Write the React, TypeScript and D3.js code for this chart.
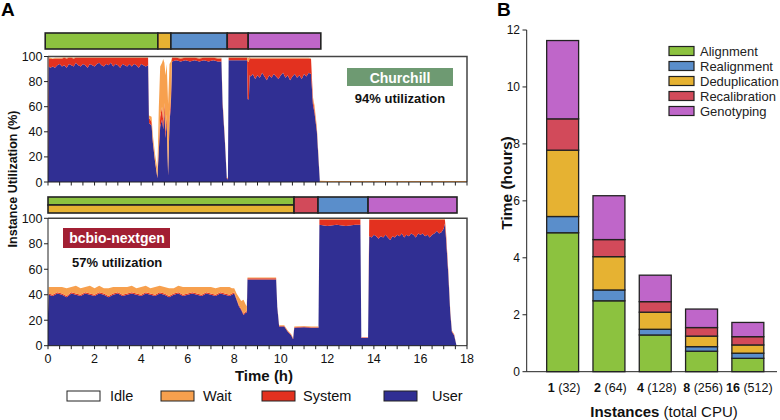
import React from "react";
import * as d3 from "d3";

// ---------- Panel A data: [time (h), user %, system %, wait %] ----------
const churchillUtil: number[][] = [
  [0, 5, 55, 0], [0.03, 92, 7, 0.5], [0.1, 91, 7, 1], [0.2, 92, 6, 0.5], [0.3, 91, 7.5, 0.5],
  [0.4, 93, 5.5, 0.5], [0.5, 94, 4.5, 0.5], [0.6, 92, 6.5, 0.5], [0.7, 93, 6, 0.5], [0.8, 91, 7.5, 0.5],
  [0.9, 94, 5, 0.5], [1.0, 93, 6, 0.5], [1.1, 92, 6.5, 0.5], [1.2, 95, 4, 0.5], [1.3, 93, 6, 0.5],
  [1.4, 92, 7, 0.5], [1.5, 94, 5, 0.5], [1.6, 93, 6, 0.5], [1.7, 91, 8, 0.5], [1.8, 94, 5, 0.5],
  [1.9, 93, 6, 0.5], [2.0, 92, 7, 0.5], [2.1, 94, 5, 0.5], [2.2, 95, 4, 0.5], [2.3, 93, 6, 0.5],
  [2.4, 92, 7, 0.5], [2.5, 94, 5, 0.5], [2.6, 93, 6, 0.5], [2.7, 95, 4, 0.5], [2.8, 92, 7, 0.5],
  [2.9, 94, 5, 0.5], [3.0, 93, 6, 0.5], [3.1, 91, 8, 0.5], [3.2, 94, 5, 0.5], [3.3, 93, 6, 0.5],
  [3.4, 92, 7, 0.5], [3.5, 94, 5, 0.5], [3.6, 92, 7, 0.5], [3.7, 94, 5, 0.5], [3.8, 93, 6, 0.5],
  [3.9, 91, 8, 0.5], [4.0, 94, 5, 0.5], [4.1, 93, 6, 0.5], [4.2, 92, 7, 0.5], [4.3, 93, 6, 0.5],
  [4.34, 47, 4, 2], [4.45, 45, 3, 4], [4.5, 32, 2, 4], [4.6, 16, 1, 5], [4.7, 3, 1, 6],
  [4.76, 25, 4, 30], [4.82, 44, 8, 40], [4.9, 50, 10, 35], [4.95, 42, 6, 50], [5.0, 55, 8, 32],
  [5.05, 35, 5, 45], [5.1, 48, 6, 40], [5.16, 5, 2, 55], [5.22, 47, 5, 42], [5.28, 62, 6, 28],
  [5.33, 96, 3, 0.5], [5.5, 97, 2, 0.5], [5.7, 96, 2.5, 0.5], [5.9, 97, 2, 0.5], [6.1, 96, 3, 0.5],
  [6.3, 97, 2, 0.5], [6.5, 96, 2.5, 0.5], [6.7, 97, 2, 0.5], [6.9, 96, 3, 0.5], [7.1, 97, 2, 0.5],
  [7.3, 96, 2.5, 0.5], [7.45, 96, 2.5, 0.5], [7.5, 62, 2, 1], [7.6, 32, 1, 1], [7.68, 3, 0.5, 0.5],
  [7.73, 2, 0.5, 0.5], [7.76, 97, 2, 0.5], [8.0, 97, 2, 0.5], [8.3, 97, 2, 0.5], [8.55, 97, 2, 0.5],
  [8.58, 66, 30, 3], [8.63, 66, 30, 3], [8.66, 85, 14, 0.5], [8.7, 84, 14.5, 0.5], [8.8, 86, 12.5, 0.5],
  [8.9, 82, 16.5, 0.5], [9.0, 85, 13.5, 0.5], [9.1, 83, 15.5, 0.5], [9.2, 87, 11.5, 0.5], [9.3, 84, 14.5, 0.5],
  [9.4, 81, 17.5, 0.5], [9.5, 85, 13.5, 0.5], [9.6, 83, 15.5, 0.5], [9.7, 86, 12.5, 0.5], [9.8, 84, 14.5, 0.5],
  [9.9, 82, 16.5, 0.5], [10.0, 85, 13.5, 0.5], [10.1, 87, 11.5, 0.5], [10.2, 83, 15.5, 0.5], [10.3, 85, 13.5, 0.5],
  [10.4, 81, 17.5, 0.5], [10.5, 84, 14.5, 0.5], [10.6, 86, 12.5, 0.5], [10.7, 83, 15.5, 0.5], [10.8, 85, 13.5, 0.5],
  [10.9, 82, 16.5, 0.5], [11.0, 86, 12.5, 0.5], [11.1, 84, 14.5, 0.5], [11.2, 87, 11.5, 0.5], [11.3, 86, 12, 0.5],
  [11.38, 62, 4, 2], [11.45, 55, 3, 3], [11.55, 40, 2, 2], [11.68, 0, 0, 1], [12, 0, 0, 0.8], [18, 0, 0, 0.8],
];

const bcbioUtil: number[][] = [
  [0, 25, 1, 3], [0.03, 40, 1, 5], [0.2, 39, 1, 6], [0.4, 41, 1, 4], [0.6, 40, 1, 5], [0.8, 38, 1, 6],
  [1.0, 41, 1, 4], [1.2, 40, 1, 6], [1.4, 39, 1, 5], [1.6, 41, 1, 4], [1.8, 40, 1, 6], [2.0, 39, 1, 5],
  [2.2, 41, 1, 5], [2.4, 40, 1, 4], [2.6, 38, 1, 6], [2.8, 40, 1, 5], [3.0, 41, 1, 4], [3.2, 39, 1, 6],
  [3.4, 40, 1, 5], [3.6, 41, 1, 5], [3.8, 40, 1, 4], [4.0, 39, 1, 6], [4.2, 41, 1, 5], [4.4, 40, 1, 4],
  [4.6, 39, 1, 6], [4.8, 41, 1, 5], [5.0, 40, 1, 5], [5.2, 38, 1, 6], [5.4, 40, 1, 4], [5.6, 41, 1, 5],
  [5.8, 39, 1, 6], [6.0, 40, 1, 5], [6.2, 41, 1, 4], [6.4, 40, 1, 5], [6.6, 39, 1, 6], [6.8, 41, 1, 4],
  [7.0, 40, 1, 5], [7.2, 39, 1, 5], [7.4, 41, 1, 4], [7.6, 40, 1, 5], [7.8, 39, 1, 6], [7.9, 40, 1, 4],
  [8.0, 41, 1, 3], [8.1, 36, 1, 4], [8.2, 31, 1, 6], [8.3, 28, 1, 6], [8.4, 24, 1, 11], [8.5, 26, 1, 5],
  [8.54, 26, 1, 4], [8.57, 52, 1, 0.5], [9.0, 52, 1, 0.5], [9.4, 52, 1, 0.5], [9.8, 52, 1, 0.5],
  [9.85, 30, 0.5, 0.5], [9.93, 15, 0.5, 0.5], [10.15, 15, 0.5, 0.5], [10.3, 11, 0.5, 0.5], [10.45, 8, 0.5, 0.5],
  [10.53, 5, 0.5, 0.5], [10.58, 14, 0.5, 0.5], [11.0, 14.5, 0.5, 0.5], [11.3, 14, 0.5, 0.5], [11.62, 14, 0.5, 0.5],
  [11.66, 95, 4, 0.5], [12.0, 94, 5, 0.5], [12.4, 95, 4, 0.5], [12.8, 94, 5, 0.5], [13.2, 95, 4, 0.5],
  [13.42, 95, 4, 0.5], [13.46, 6, 0.5, 0], [13.75, 6, 0.5, 0], [13.8, 86, 13, 0.5], [13.9, 85, 14, 0.5],
  [14.0, 87, 12, 0.5], [14.1, 86, 13, 0.5], [14.2, 84, 15, 0.5], [14.3, 86, 13, 0.5], [14.4, 85, 14, 0.5],
  [14.5, 87, 12, 0.5], [14.6, 85, 14, 0.5], [14.7, 83, 16, 0.5], [14.8, 86, 13, 0.5], [14.9, 85, 14, 0.5],
  [15.0, 87, 12, 0.5], [15.1, 86, 13, 0.5], [15.2, 88, 11, 0.5], [15.3, 85, 14, 0.5], [15.4, 87, 12, 0.5],
  [15.5, 86, 13, 0.5], [15.6, 88, 11, 0.5], [15.7, 87, 12, 0.5], [15.8, 85, 14, 0.5], [15.9, 88, 11, 0.5],
  [16.0, 87, 12, 0.5], [16.1, 88, 11, 0.5], [16.2, 86, 13, 0.5], [16.3, 87, 12, 0.5], [16.4, 85, 14, 0.5],
  [16.5, 87, 12, 0.5], [16.6, 88, 11, 0.5], [16.7, 90, 9, 0.5], [16.8, 88, 11, 0.5], [16.9, 89, 10, 0.5],
  [17.0, 92, 7, 0.5], [17.05, 96, 3, 0.5], [17.1, 84, 4, 1], [17.2, 55, 2, 1], [17.28, 26, 1, 1],
  [17.35, 11, 0.5, 0.5], [17.45, 8, 0.5, 0.5], [17.55, 0, 0, 0],
];

// Phase bars above each panel: [phase, start h, end h, row]
const churchillPhases: [string, number, number, number][] = [
  ["Alignment", -0.12, 4.72, 0], ["Deduplication", 4.72, 5.28, 0], ["Realignment", 5.28, 7.7, 0],
  ["Recalibration", 7.7, 8.6, 0], ["Genotyping", 8.6, 11.72, 0],
];
const bcbioPhases: [string, number, number, number][] = [
  ["Alignment", 0, 10.57, 1], ["Deduplication", 0, 10.57, 2], ["Recalibration", 10.57, 11.6, 0],
  ["Realignment", 11.6, 13.75, 0], ["Genotyping", 13.75, 17.57, 0],
];

const utilKeys = ["user", "system", "wait"];
const utilLegend = ["Idle", "Wait", "System", "User"];
const xTicksA = d3.range(0, 18.01, 0.5);
const xLabelsA = [0, 2, 4, 6, 8, 10, 12, 14, 16, 18];
const yTicksA = [0, 20, 40, 60, 80, 100];

// ---------- Panel B data (hours) ----------
const instances = ["1", "2", "4", "8", "16"];
const totalCpu = ["32", "64", "128", "256", "512"];
const phases = ["Alignment", "Realignment", "Deduplication", "Recalibration", "Genotyping"];
const alignment = [4.88, 2.49, 1.29, 0.72, 0.47];
const realignment = [0.57, 0.38, 0.2, 0.16, 0.18];
const deduplication = [2.33, 1.17, 0.6, 0.37, 0.29];
const recalibration = [1.1, 0.6, 0.37, 0.3, 0.29];
const genotyping = [2.75, 1.54, 0.93, 0.65, 0.5];
const yTicksB = [0, 2, 4, 6, 8, 10, 12];

const phaseColor: Record<string, string> = {
  Alignment: "#8cc23f",
  Realignment: "#5a8ecb",
  Deduplication: "#e6b232",
  Recalibration: "#d24a5a",
  Genotyping: "#bf66c9",
};
const utilColor: Record<string, string> = {
  Idle: "#ffffff", Wait: "#f7a04e", System: "#e3311f", User: "#302f93",
  user: "#302f93", system: "#e3311f", wait: "#f7a04e",
};

const FONT = "'Liberation Sans', Arial, Helvetica, sans-serif";

function UtilPanel({ data, y0, y1, phasesBar, barTop, showLabels }: any) {
  const x = d3.scaleLinear().domain([0, 18]).range([48, 467]);
  const y = d3.scaleLinear().domain([0, 100]).range([y1, y0]);
  const rows = data.map((d: number[]) => ({ t: d[0], user: d[1], system: d[2], wait: d[3] }));
  const series = d3.stack().keys(utilKeys)(rows as any);
  const area = d3
    .area<any>()
    .x((d) => x(d.data.t))
    .y0((d) => y(d[0]))
    .y1((d) => y(d[1]));
  const barH = 16;
  return (
    <g>
      {series.map((s: any) => (
        <path key={s.key} d={area(s) || ""} fill={utilColor[s.key]} />
      ))}
      <path d={`M48,${y0}H467V${y1}`} fill="none" stroke="#444" strokeWidth={1.5} />
      <line x1={48} x2={48} y1={y0} y2={y1} stroke="#222" strokeWidth={1} />
      <line x1={48} x2={467} y1={y1} y2={y1} stroke="#222" strokeWidth={1} />
      {xTicksA.map((t) => (
        <line key={t} x1={x(t)} x2={x(t)} y1={y1} y2={y1 + 3.5} stroke="#222" strokeWidth={1} />
      ))}
      {yTicksA.map((t) => (
        <g key={t}>
          <line x1={44} x2={48} y1={y(t)} y2={y(t)} stroke="#222" />
          <text x={42.5} y={y(t) + 4.5} textAnchor="end" fontSize={12.5} fill="#111">{t}</text>
        </g>
      ))}
      {showLabels &&
        xLabelsA.map((t) => (
          <text key={t} x={x(t)} y={y1 + 17} textAnchor="middle" fontSize={12.5} fill="#111">{t}</text>
        ))}
      {phasesBar.map((p: any, i: number) => {
        const [name, s, e, row] = p;
        const yy = row === 2 ? barTop + barH / 2 : barTop;
        const hh = row === 0 ? barH : barH / 2;
        return (
          <rect key={i} x={x(s)} y={yy} width={x(e) - x(s)} height={hh}
            fill={phaseColor[name]} stroke="#222" strokeWidth={1.6} />
        );
      })}
    </g>
  );
}

export default function App() {
  const xB = d3.scaleBand().domain(instances).range([539.5, 771]).paddingInner(0.31).paddingOuter(0.155);
  const yB = d3.scaleLinear().domain([0, 12]).range([371.7, 30]);
  const table = instances.map((inst, i) => ({
    inst,
    Alignment: alignment[i],
    Realignment: realignment[i],
    Deduplication: deduplication[i],
    Recalibration: recalibration[i],
    Genotyping: genotyping[i],
  }));
  const stackB = d3.stack().keys(phases)(table as any);

  const legendA = [
    { x: 67, tx: 110 },
    { x: 161, tx: 203 },
    { x: 262, tx: 303 },
    { x: 384, tx: 432 },
  ];

  return (
    <svg width={780} height={420} style={{ position: "fixed", left: 0, top: 0, background: "#fff" }}
      fontFamily={FONT}>
      <rect x={0} y={0} width={780} height={420} fill="#fff" />
      {/* Panel A */}
      <text x={1} y={15.5} fontSize={19} fontWeight="bold">A</text>
      <UtilPanel data={churchillUtil} y0={56.5} y1={182} phasesBar={churchillPhases} barTop={33} showLabels={false} />
      <UtilPanel data={bcbioUtil} y0={218.3} y1={345.7} phasesBar={bcbioPhases} barTop={197} showLabels={true} />

      <rect x={347} y={68} width={106} height={18} fill="#6e9a72" />
      <text x={400} y={82.5} textAnchor="middle" fontSize={14} fontWeight="bold" fill="#fff">Churchill</text>
      <text x={400} y={103} textAnchor="middle" fontSize={13} fontWeight="bold" fill="#111">94% utilization</text>

      <rect x={63} y={228} width={107} height={20} fill="#a21f33" />
      <text x={117} y={243} textAnchor="middle" fontSize={14} fontWeight="bold" fill="#fff">bcbio-nextgen</text>
      <text x={72} y={267} fontSize={13} fontWeight="bold" fill="#111">57% utilization</text>

      <text transform="translate(17,179) rotate(-90)" textAnchor="middle" fontSize={12.5} fontWeight="bold" fill="#111">
        Instance Utilization (%)
      </text>
      <text x={264} y={381} textAnchor="middle" fontSize={15} fontWeight="bold" fill="#111">Time (h)</text>

      {utilLegend.map((name, i) => (
        <g key={name}>
          <rect x={legendA[i].x} y={391} width={33} height={10} fill={utilColor[name]} stroke="#222" strokeWidth={1} />
          <text x={legendA[i].tx} y={401} fontSize={14.5} fill="#111">{name}</text>
        </g>
      ))}

      {/* Panel B */}
      <text x={497} y={15.5} fontSize={19} fontWeight="bold">B</text>
      {stackB.map((s: any) =>
        s.map((d: any, i: number) => (
          <rect key={s.key + i} x={xB(instances[i])} y={yB(d[1])} width={xB.bandwidth()}
            height={yB(d[0]) - yB(d[1])} fill={phaseColor[s.key]} stroke="#222" strokeWidth={1.3} />
        ))
      )}
      <line x1={526.7} x2={526.7} y1={30} y2={371.7} stroke="#222" />
      <line x1={526.7} x2={777} y1={371.7} y2={371.7} stroke="#222" />
      {yTicksB.map((t) => (
        <g key={t}>
          <line x1={522.5} x2={526.7} y1={yB(t)} y2={yB(t)} stroke="#222" />
          <text x={520} y={yB(t) + 4} textAnchor="end" fontSize={12} fill="#111">{t}</text>
        </g>
      ))}
      {instances.map((inst, i) => (
        <text key={inst} x={(xB(inst) as number) + xB.bandwidth() / 2 + 1.5} y={392} textAnchor="middle" fontSize={12.5} fill="#111">
          <tspan fontWeight="bold">{inst}</tspan>
          <tspan> ({totalCpu[i]})</tspan>
        </text>
      ))}
      <text x={664} y={417} textAnchor="middle" fontSize={15} fill="#111">
        <tspan fontWeight="bold">Instances</tspan>
        <tspan> (total CPU)</tspan>
      </text>
      <text transform="translate(512,183) rotate(-90)" textAnchor="middle" fontSize={15.5} fontWeight="bold" fill="#111">
        Time (hours)
      </text>
      {phases.map((p, i) => (
        <g key={p}>
          <rect x={669} y={46.5 + i * 15} width={25} height={9} fill={phaseColor[p]} stroke="#222" strokeWidth={1.2} />
          <text x={700} y={56 + i * 15} fontSize={13} fill="#222">{p}</text>
        </g>
      ))}
    </svg>
  );
}
